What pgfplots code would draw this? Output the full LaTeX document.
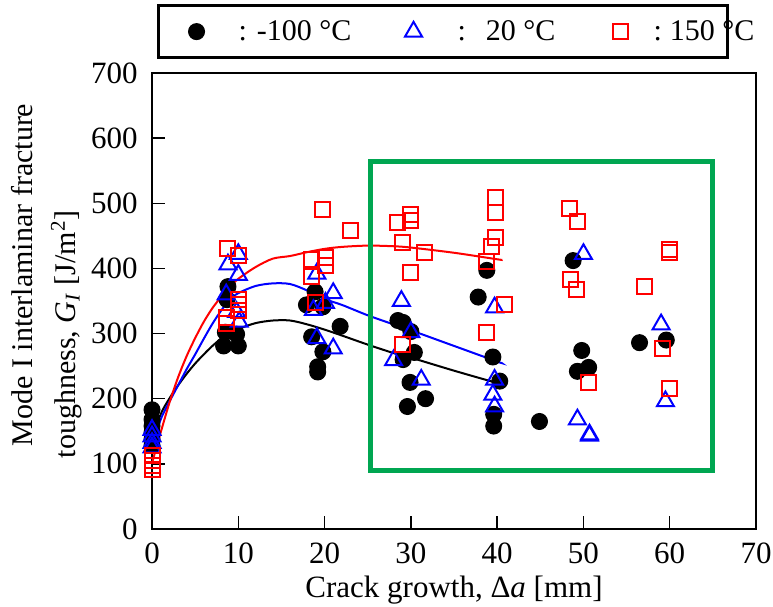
\documentclass[border=0pt]{standalone}
\usepackage{fontspec}
\setmainfont{Liberation Serif}
\usepackage{pgfplots}
\pgfplotsset{compat=1.18}
\definecolor{boxgreen}{RGB}{0,166,81}
\begin{document}
\begin{tikzpicture}
\begin{axis}[
  scale only axis, width=302pt, height=228pt,
  xmin=0, xmax=70, ymin=0, ymax=700,
  xtick={0,10,...,70}, ytick={0,100,...,700},
  tick align=inside, xtick pos=bottom, ytick pos=left,
  major tick length=6.5pt,
  every tick/.style={black, line width=0.7pt},
  axis line style={line width=1.3pt},
  /pgf/number format/assume math mode=true,
  tick label style={font=\fontsize{15.5}{18}\selectfont},
  xticklabel style={inner sep=0pt, yshift=-7pt},
  yticklabel style={inner sep=0pt, xshift=-7pt},
  clip=false,
  xlabel={Crack growth, Δ\textit{a} [mm]},
  xlabel style={at={(axis description cs:0.5,-0.1513)}, anchor=base, font=\fontsize{15.5}{18}\selectfont, inner sep=0pt},
  ylabel={\hspace*{6pt}Mode I interlaminar fracture\\toughness, \textit{G}\textsubscript{\textit{I}} [J/m\textsuperscript{2}]},
  ylabel style={at={(axis description cs:-0.1747,0.544)}, anchor=center, align=left, font=\fontsize{15}{21.5}\selectfont, inner sep=0pt},
  legend columns=3,
  legend cell align=left,
  legend image code/.code={\path[draw=none,fill=none] (-8.5pt,-6pt) rectangle (8.5pt,6pt); \draw[#1] plot coordinates {(0pt,0pt)};},
  legend style={at={(axis description cs:0.0083,1.151)}, anchor=north west, draw=black, line width=1.5pt, inner xsep=10.5pt, inner ysep=7pt, nodes={inner sep=0pt, font=\fontsize{15}{18}\selectfont}, /tikz/every even column/.style={column sep=0pt}, /tikz/every odd column/.style={column sep=0pt}},
]
% -100 C
\addplot[only marks, mark=*, mark size=4pt, black, mark options={fill=black, line width=0.5pt}] coordinates {
(0,183)(0,168)(0,158)(0,148)(0,138)(0,128)
(8.8,372)(8.7,352)(8.5,302)(9.8,299)(8.3,281)(10,281)
(18.9,364)(17.9,344)(19.8,341)(21.8,311)(18.5,295)(19.8,272)(19.2,249)(19.2,241)
(28.5,320)(29.1,317)(30,303)(30.4,271)(29.1,260)(29.9,225)(31.7,200)(29.6,188)
(38.8,397)(37.8,356)(39.5,264)(40.3,227)(39.6,176)(39.6,158)
(44.9,165)
(48.8,412)(49.8,274)(49.3,242)(50.6,248)
(56.5,286)(59.6,290)
};
\addlegendentry{\makebox[91.5pt][l]{\hspace*{12.5pt}: -100 °C}}
% 20 C
\addplot[only marks, mark=triangle, mark size=4.9pt, blue, mark options={line width=1pt}] coordinates {
(0,152)(0,142)(0,132)(0,125)
(10,422)(8.8,406)(10,390)(8.6,360)(9.8,333)(10.1,318)
(19.1,392)(21,362)(20.1,347)(18.7,336)(19.1,293)(21,277)
(28.9,350)(30,302)(28,259)(31.2,229)
(39.7,340)(39.7,229)(39.5,206)(39.7,188)
(50,422)(49.3,168)(50.7,145)(50.7,143)
(59,314)(59.5,196)
};
\addlegendentry{\makebox[86.5pt][l]{\hspace*{13.5pt}:\hspace{10pt}20 °C}}
% 150 C
\addplot[only marks, mark=square, mark size=3.75pt, red, mark options={line width=1pt}] coordinates {
(0,113)(0,105)(0,98)(0,92)
(8.7,430)(10,420)(10,352)(10,344)(10,336)(8.6,324)(8.6,316)
(19.8,490)(23,458)(18.5,414)(20.1,417)(20.1,404)(18.5,387)(18.9,348)
(28.4,470)(30,482)(30,473)(29,439)(31.6,424)(30,394)(29,283)
(39.8,509)(39.8,486)(39.8,447)(39.3,434)(38.8,410)(40.9,345)(38.8,302)
(48.4,492)(49.3,472)(48.5,383)(49.2,368)(50.6,225)
(57.1,372)(60,429)(60,424)(59.2,277)(60,215)
};
\addlegendentry{\makebox[34.5pt][l]{\hspace*{8pt}:\hspace{4pt}150 °C}}
% fitted curves
\addplot[black, line width=1pt, smooth, no marks, forget plot] coordinates {
(0,135)(1,176)(2,200)(3,220)(4,238)(5,254)(6,268)(7,281)(8,292)(9,300)(10,307)(12,316)(14,320)(16,320)(18,314)(20,306)(22,297)(25,283)(28,270)(30,263)(35,243)(40,224)(41,220)
};
\addplot[blue, line width=1pt, smooth, no marks, forget plot] coordinates {
(0,125)(1,168)(2,195)(3,220)(4,245)(5,268)(6,292)(7,315)(8,335)(9,352)(10,362)(12,373)(14,377)(16,376)(18,366)(20,353)(22,344)(25,328)(28,314)(30,305)(35,281)(40,257)(40.5,255)
};
\addplot[red, line width=1pt, smooth, no marks, forget plot] coordinates {
(0,101)(1,148)(2,193)(3,232)(4,265)(5,293)(6,318)(7,339)(8,356)(9,371)(10,384)(12,402)(14,415)(16,419)(18,425)(20,430)(22,433)(25,435)(28,434)(30,432)(35,424)(40,414)(40.6,413)
};
% green box
\addplot[boxgreen, line width=2.5pt, no marks, forget plot, line join=miter] coordinates {
(25.3,89)(64.9,89)(64.9,564)(25.3,564)(25.3,89)(64.9,89)
};
\path (axis description cs:-0.2517,-0.171) rectangle (axis description cs:1.0281,1.160);
\end{axis}
\end{tikzpicture}
\end{document}
